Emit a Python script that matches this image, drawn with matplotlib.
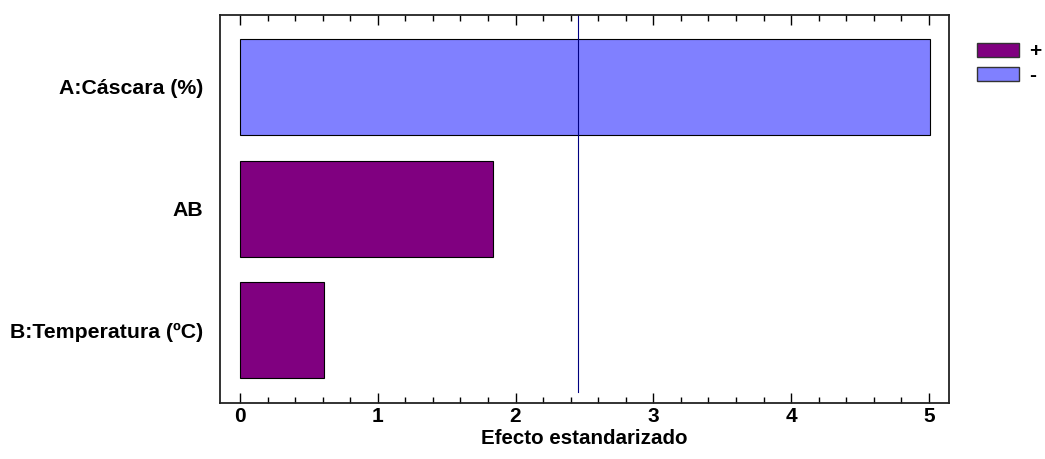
import matplotlib
matplotlib.use("Agg")
from matplotlib import pyplot as plt
from matplotlib.patches import Patch
from matplotlib.ticker import MultipleLocator

# Effects (top to bottom) and their sign
factors = ["A:Cáscara (%)", "AB", "B:Temperatura (ºC)"]
effects = [5.01, 1.836, 0.61]
signs = ["-", "+", "+"]
critical = 2.453

xlabel = "Efecto estandarizado"
xticks = [0, 1, 2, 3, 4, 5]

plt.rcParams["font.family"] = ["Liberation Sans", "DejaVu Sans"]
plt.rcParams["font.weight"] = "bold"

colors = {"+": "#800080", "-": "#8080FF"}

figure = plt.figure(figsize=(10.45, 4.59), dpi=100)
axis = figure.add_axes([0.2105, 0.122, 0.6975, 0.845])

positions = list(range(len(factors)))
bar_colors = [colors[s] for s in signs]
axis.barh(positions, effects, height=0.79, color=bar_colors,
          edgecolor="black", linewidth=0.8)

axis.axvline(critical, ymin=0.028, ymax=1, color="#000080", linewidth=0.8)

axis.set_xlim(-0.145, 5.145)
axis.set_ylim(2.597, -0.59)

axis.set_yticks(positions)
axis.set_yticklabels(factors, fontsize=15.3, fontweight="bold")
axis.tick_params(axis="y", length=0, pad=12)

axis.set_xticks(xticks)
axis.set_xticklabels([str(t) for t in xticks], fontsize=15, fontweight="bold")
axis.xaxis.set_minor_locator(MultipleLocator(0.2))
axis.tick_params(axis="x", which="major", direction="in", length=7,
                 width=1, top=True, pad=3)
axis.tick_params(axis="x", which="minor", direction="in", length=4,
                 width=1, top=True)
axis.set_xlabel(xlabel, fontsize=14.8, fontweight="bold", labelpad=2)

for spine in axis.spines.values():
    spine.set_linewidth(1.3)
    spine.set_color("#222222")

handles = [Patch(facecolor=colors["+"], edgecolor="#333333", label="+"),
           Patch(facecolor=colors["-"], edgecolor="#333333", label="-")]
figure.legend(handles=handles, loc="upper left",
              bbox_to_anchor=(0.935, 0.908), frameon=False,
              prop={"size": 15, "weight": "bold"},
              handlelength=2.0, handleheight=0.63, labelspacing=0.25,
              handletextpad=0.5, borderaxespad=0, borderpad=0)

plt.savefig("out.png", dpi=100)
